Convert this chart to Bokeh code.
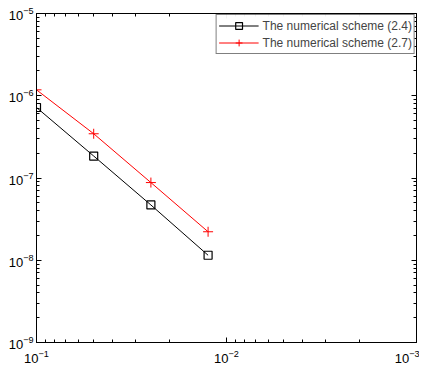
from bokeh.plotting import figure
from bokeh.models import Range1d, LogAxis, Legend, LegendItem, FixedTicker, CustomJSTickFormatter
from bokeh.embed import file_html
from bokeh.resources import INLINE

h = [0.1, 0.05, 0.025, 0.0125]
err_24 = [7.2e-7, 1.85e-7, 4.7e-8, 1.15e-8]
err_27 = [1.18e-6, 3.45e-7, 8.8e-8, 2.22e-8]
labels = ["The numerical scheme (2.4)", "The numerical scheme (2.7)"]
x_ticks = [1e-1, 1e-2, 1e-3]
y_ticks = [1e-9, 1e-8, 1e-7, 1e-6, 1e-5]

def minors(majors):
    majors = sorted(majors)
    out = []
    for d in majors[:-1]:
        out += [k * d for k in range(2, 10)]
    return out

x_major = sorted(x_ticks)
x_minor = minors(x_major)
y_minor = minors(y_ticks)

p = figure(width=419, height=365, x_axis_type="log", y_axis_type="log",
           x_range=Range1d(0.1, 0.001), y_range=Range1d(1e-9, 1e-5),
           output_backend="svg", toolbar_location=None,
           min_border_left=36, min_border_right=3, min_border_top=13, min_border_bottom=20)
p.grid.visible = False
p.outline_line_color = "black"
p.outline_line_width = 1

font = "Liberation Sans"
blank = CustomJSTickFormatter(code="return ' '")

def style(ax, show):
    ax.major_tick_in = 5
    ax.major_tick_out = 0
    ax.minor_tick_in = 3
    ax.minor_tick_out = 0
    ax.axis_line_color = "black"
    ax.major_tick_line_color = "black"
    ax.minor_tick_line_color = "black"
    ax.major_label_text_font = font
    ax.major_label_text_font_size = "13px"
    ax.major_label_text_color = "black"
    ax.major_label_standoff = 3
    if not show:
        ax.formatter = blank
        ax.major_label_standoff = 0
        ax.major_label_text_font_size = "1px"

p.xaxis[0].ticker = FixedTicker(ticks=x_major, minor_ticks=x_minor)
p.yaxis[0].ticker = FixedTicker(ticks=y_ticks, minor_ticks=y_minor)
style(p.xaxis[0], True)
style(p.yaxis[0], True)
p.xaxis[0].major_label_standoff = 7

top = LogAxis(ticker=FixedTicker(ticks=x_major, minor_ticks=x_minor))
right = LogAxis(ticker=FixedTicker(ticks=y_ticks, minor_ticks=y_minor))
style(top, False)
style(right, False)
p.add_layout(top, "above")
p.add_layout(right, "right")

l1 = p.line(h, err_24, line_color="black", line_width=1)
s1 = p.scatter(h, err_24, marker="square", size=8, fill_color=None, line_color="black", line_width=1.2)
l2 = p.line(h, err_27, line_color="red", line_width=1)
s2 = p.scatter(h, err_27, marker="cross", size=10, line_color="red", line_width=1)

legend = Legend(items=[LegendItem(label=labels[0], renderers=[l1, s1]),
                       LegendItem(label=labels[1], renderers=[l2, s2])],
                location="top_right", border_line_color="black", border_line_width=1,
                label_text_font=font, label_text_font_size="12px",
                glyph_width=40, glyph_height=17, label_height=17,
                spacing=0, padding=2, margin=1, label_standoff=4)
p.add_layout(legend)

open("out.html", "w").write(file_html(p, INLINE))
